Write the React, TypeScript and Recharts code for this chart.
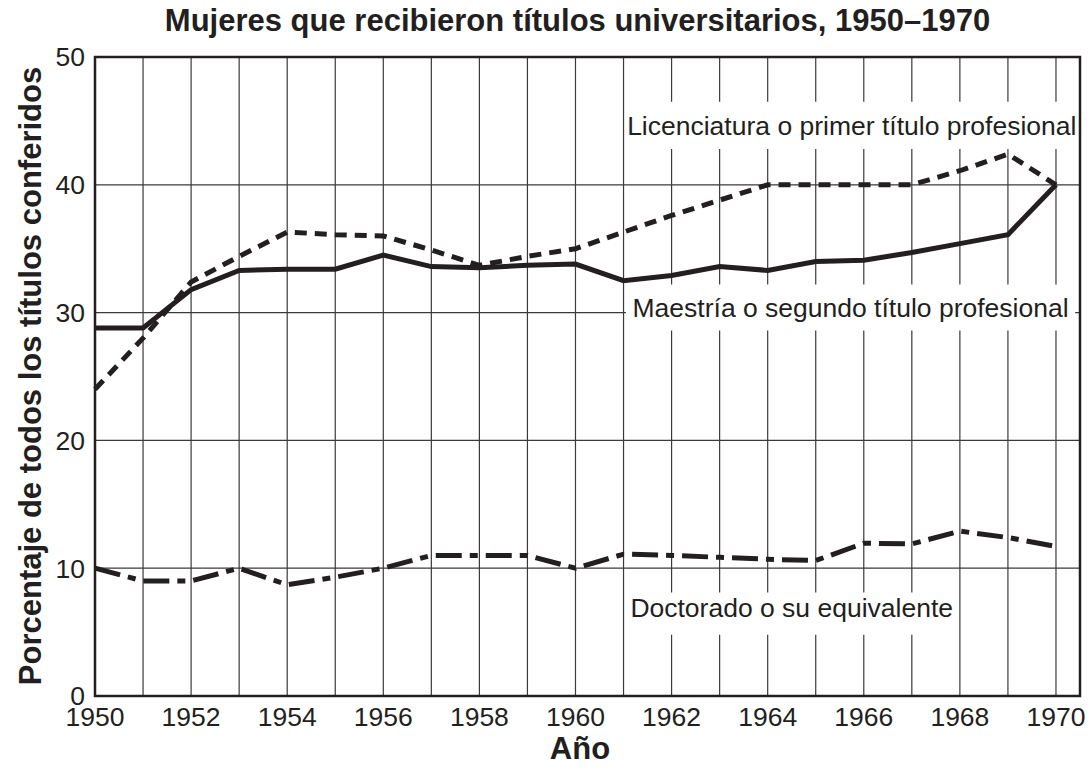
import { LineChart, Line, XAxis, YAxis, CartesianGrid, ReferenceArea, Label } from "recharts";

const years = [
  1950, 1951, 1952, 1953, 1954, 1955, 1956, 1957, 1958, 1959, 1960,
  1961, 1962, 1963, 1964, 1965, 1966, 1967, 1968, 1969, 1970,
];

// licenciatura o primer título profesional (dashed)
const licenciatura = [
  24.0, 28.0, 32.4, 34.4, 36.3, 36.1, 36.0, 34.9, 33.7, 34.4, 35.0,
  36.3, 37.6, 38.8, 40.0, 40.0, 40.0, 40.0, 41.1, 42.4, 40.0,
];

// maestría o segundo título profesional (solid)
const maestria = [
  28.8, 28.8, 31.8, 33.3, 33.4, 33.4, 34.5, 33.6, 33.5, 33.7, 33.8,
  32.5, 32.9, 33.6, 33.3, 34.0, 34.1, 34.7, 35.4, 36.1, 40.0,
];

// doctorado o su equivalente (dash-dot)
const doctorado = [
  10.0, 9.0, 9.0, 10.0, 8.7, 9.3, 10.0, 11.0, 11.0, 11.0, 10.0,
  11.1, 11.0, 10.85, 10.7, 10.6, 11.95, 11.9, 12.9, 12.4, 11.7,
];

const yTicks = [0, 10, 20, 30, 40, 50];

const data = years.map((year, i) => ({
  year,
  licenciatura: licenciatura[i],
  maestria: maestria[i],
  doctorado: doctorado[i],
}));

const INK = "#231f20";
const FONT = "'Liberation Sans', Arial, Helvetica, sans-serif";

function YTitle() {
  return (
    <text
      x={30}
      y={376}
      transform="rotate(-90 30 376)"
      textAnchor="middle"
      dominantBaseline="central"
      fontFamily={FONT}
      fontWeight="bold"
      fontSize={31}
      fill={INK}
    >
      Porcentaje de todos los títulos conferidos
    </text>
  );
}

function XTitle() {
  return (
    <text
      x={580}
      y={759}
      textAnchor="middle"
      fontFamily={FONT}
      fontWeight="bold"
      fontSize={31}
      fill={INK}
    >
      Año
    </text>
  );
}

const boxLabel = (value: string, dy = 0) => ({
  value,
  position: "center" as const,
  fill: INK,
  fontSize: 26.5,
  fontFamily: FONT,
  dy,
});

export default function App() {
  return (
    <div style={{ position: "absolute", left: 0, top: 0, width: 1089, height: 769, background: "#fff" }}>
      <div
        style={{
          position: "absolute",
          left: 0,
          width: 1089,
          top: 3,
          textAlign: "center",
          fontFamily: FONT,
          fontWeight: "bold",
          fontSize: 31,
          color: INK,
          paddingLeft: 66,
          boxSizing: "border-box",
        }}
      >
        Mujeres que recibieron títulos universitarios, 1950–1970
      </div>
      <LineChart
        width={1089}
        height={769}
        data={data}
        margin={{ top: 57, right: 9, bottom: 33, left: 45 }}
        style={{ fontFamily: FONT }}
      >
        <CartesianGrid stroke="#3a3a3a" strokeWidth={1.2} />
        <XAxis
          dataKey="year"
          type="number"
          domain={[1950, 1970.5]}
          ticks={years}
          interval={0}
          tickFormatter={(v: number) => (v % 2 === 0 ? String(v) : "")}
          height={40}
          axisLine={false}
          tickLine={false}
          tickMargin={5}
          tick={{ fill: INK, fontSize: 26.5, fontFamily: FONT }}
        >
          <Label content={XTitle} />
        </XAxis>
        <YAxis
          type="number"
          domain={[0, 50]}
          ticks={yTicks}
          width={50}
          axisLine={false}
          tickLine={false}
          tickMargin={4}
          tick={{ fill: INK, fontSize: 26.5, fontFamily: FONT }}
        >
          <Label content={YTitle} />
        </YAxis>

        <ReferenceArea x1={1961.05} x2={1970.45} y1={42.8} y2={46.5} fill="#fff" fillOpacity={1} stroke="none" label={boxLabel("Licenciatura o primer título profesional")} />
        <ReferenceArea x1={1961.05} x2={1970.4} y1={28.6} y2={32.2} fill="#fff" fillOpacity={1} stroke="none" label={boxLabel("Maestría o segundo título profesional")} />
        <ReferenceArea x1={1961.1} x2={1967.9} y1={4.8} y2={8.1} fill="#fff" fillOpacity={1} stroke="none" label={boxLabel("Doctorado o su equivalente", -6)} />
        <ReferenceArea x1={1950} x2={1970.5} y1={0} y2={50} fill="none" stroke={INK} strokeWidth={2.5} />

        <Line
          type="linear"
          dataKey="licenciatura"
          stroke={INK}
          strokeWidth={5}
          strokeDasharray="12 8"
          dot={false}
          isAnimationActive={false}
        />
        <Line
          type="linear"
          dataKey="maestria"
          stroke={INK}
          strokeWidth={5}
          dot={false}
          isAnimationActive={false}
        />
        <Line
          type="linear"
          dataKey="doctorado"
          stroke={INK}
          strokeWidth={5}
          strokeDasharray="26 8 8 8"
          dot={false}
          isAnimationActive={false}
        />
      </LineChart>
    </div>
  );
}
